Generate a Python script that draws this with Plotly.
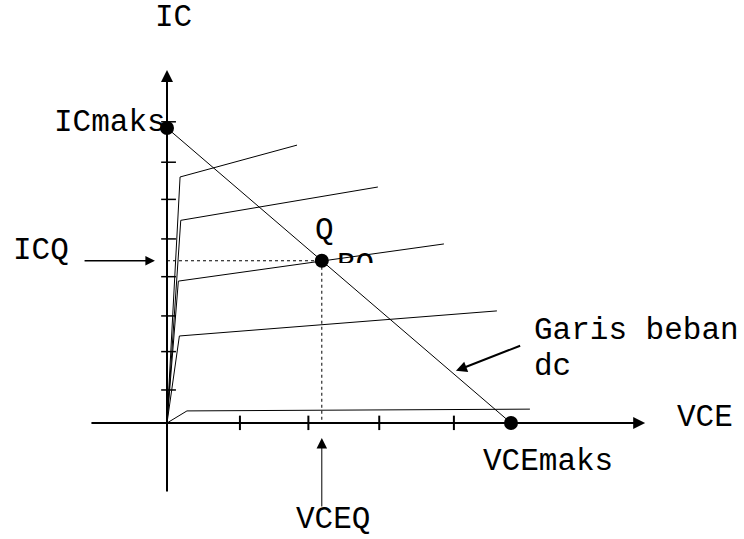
import plotly.graph_objects as go

# ---- data (VCE in volts, IC in mA) ----
vce_ticks = [2.12, 4.11, 6.17, 8.34]
ic_ticks = [1.12, 2.42, 3.63, 4.96, 6.24, 7.58, 8.84, 10.21]

knee_vce = [0.38, 0.40, 0.33, 0.36, 0.58]
knee_ic = [8.34, 6.87, 4.81, 2.95, 0.41]
end_vce = [3.78, 6.13, 8.05, 9.59, 10.55]
end_ic = [9.42, 8.00, 6.07, 3.80, 0.47]

vce_max = 10.0
ic_max = 10.0
vce_q = 4.5
ic_q = 5.5

FONT = "Courier New, Liberation Mono, monospace"
FS = 31

fig = go.Figure()

# partially hidden label near Q
fig.add_trace(go.Scatter(x=[4.94], y=[5.32], mode="text", text=["BQ"],
                         textposition="middle right",
                         textfont=dict(family=FONT, size=FS, color="black"),
                         hoverinfo="skip"))
# white cover (drawn before the lines)
fig.add_trace(go.Scatter(x=[4.85, 6.4, 6.4, 4.85, 4.85], y=[5.42, 5.42, 4.6, 4.6, 5.42],
                         mode="lines", fill="toself", fillcolor="white",
                         line=dict(width=0, color="white"), hoverinfo="skip"))

# characteristic curves
for kv, ki, ev, ei in zip(knee_vce, knee_ic, end_vce, end_ic):
    fig.add_trace(go.Scatter(x=[0, kv, ev], y=[0, ki, ei], mode="lines",
                             line=dict(color="black", width=1), hoverinfo="skip"))

# load line
fig.add_trace(go.Scatter(x=[0, vce_max], y=[ic_max, 0], mode="lines",
                         line=dict(color="black", width=1), hoverinfo="skip"))

# dotted Q projections
fig.add_trace(go.Scatter(x=[0, vce_q, None, vce_q, vce_q], y=[ic_q, ic_q, None, ic_q, 0],
                         mode="lines", line=dict(color="black", width=1, dash="dot"),
                         hoverinfo="skip"))

# tick marks
tx, ty = [], []
for v in vce_ticks:
    tx += [v, v, None]
    ty += [-0.24, 0.25, None]
fig.add_trace(go.Scatter(x=tx, y=ty, mode="lines", line=dict(color="black", width=2),
                         hoverinfo="skip"))
tx, ty = [], []
for i in ic_ticks:
    tx += [-0.17, 0.26, None]
    ty += [i, i, None]
fig.add_trace(go.Scatter(x=tx, y=ty, mode="lines", line=dict(color="black", width=1.5),
                         hoverinfo="skip"))

# points
fig.add_trace(go.Scatter(x=[0, vce_q, vce_max], y=[ic_max, ic_q, 0], mode="markers",
                         marker=dict(color="black", size=14), hoverinfo="skip"))

anns = []
# axes with arrowheads
anns.append(dict(x=0, y=11.97, ax=0, ay=-2.37, xref="x", yref="y", axref="x", ayref="y",
                 text="", showarrow=True, arrowhead=2, arrowsize=1.2, arrowwidth=2,
                 arrowcolor="black"))
anns.append(dict(x=13.9, y=0, ax=-2.24, ay=0, xref="x", yref="y", axref="x", ayref="y",
                 text="", showarrow=True, arrowhead=2, arrowsize=1.2, arrowwidth=2,
                 arrowcolor="black"))
# pointer arrows
anns.append(dict(x=-0.35, y=ic_q, ax=-2.44, ay=ic_q, xref="x", yref="y", axref="x", ayref="y",
                 text="", showarrow=True, arrowhead=2, arrowsize=1.2, arrowwidth=1.6,
                 arrowcolor="black"))
anns.append(dict(x=vce_q, y=-0.51, ax=vce_q, ay=-2.88, xref="x", yref="y", axref="x", ayref="y",
                 text="", showarrow=True, arrowhead=2, arrowsize=2.1, arrowwidth=1,
                 arrowcolor="black"))
anns.append(dict(x=8.40, y=1.77, ax=10.31, ay=2.64, xref="x", yref="y", axref="x", ayref="y",
                 text="", showarrow=True, arrowhead=2, arrowsize=1.1, arrowwidth=2,
                 arrowcolor="black"))

labels = [
    ("IC", 0.20, 13.73, "center"),
    ("ICmaks", -3.31, 10.17, "left"),
    ("ICQ", -4.51, 5.85, "left"),
    ("Q", 4.59, 6.51, "center"),
    ("Garis beban", 10.63, 3.12, "left"),
    ("dc", 10.63, 1.93, "left"),
    ("VCE", 14.8, 0.17, "left"),
    ("VCEmaks", 9.16, -1.32, "left"),
    ("VCEQ", 3.72, -3.27, "left"),
]
for t, x, y, xa in labels:
    anns.append(dict(x=x, y=y, xref="x", yref="y", text=t, showarrow=False,
                     xanchor=xa, yanchor="middle", borderpad=0,
                     font=dict(family=FONT, size=FS, color="black")))

fig.update_layout(
    width=744, height=539, autosize=False,
    margin=dict(l=0, r=0, t=0, b=0, pad=0),
    paper_bgcolor="white", plot_bgcolor="white",
    showlegend=False,
    xaxis=dict(range=[-167 / 34.4, 577 / 34.4], visible=False, fixedrange=True),
    yaxis=dict(range=[-116 / 29.5, 423 / 29.5], visible=False, fixedrange=True),
    annotations=anns,
)

fig.write_html("out.html", post_script="document.body.style.margin='0';",
               config={"displayModeBar": False})
